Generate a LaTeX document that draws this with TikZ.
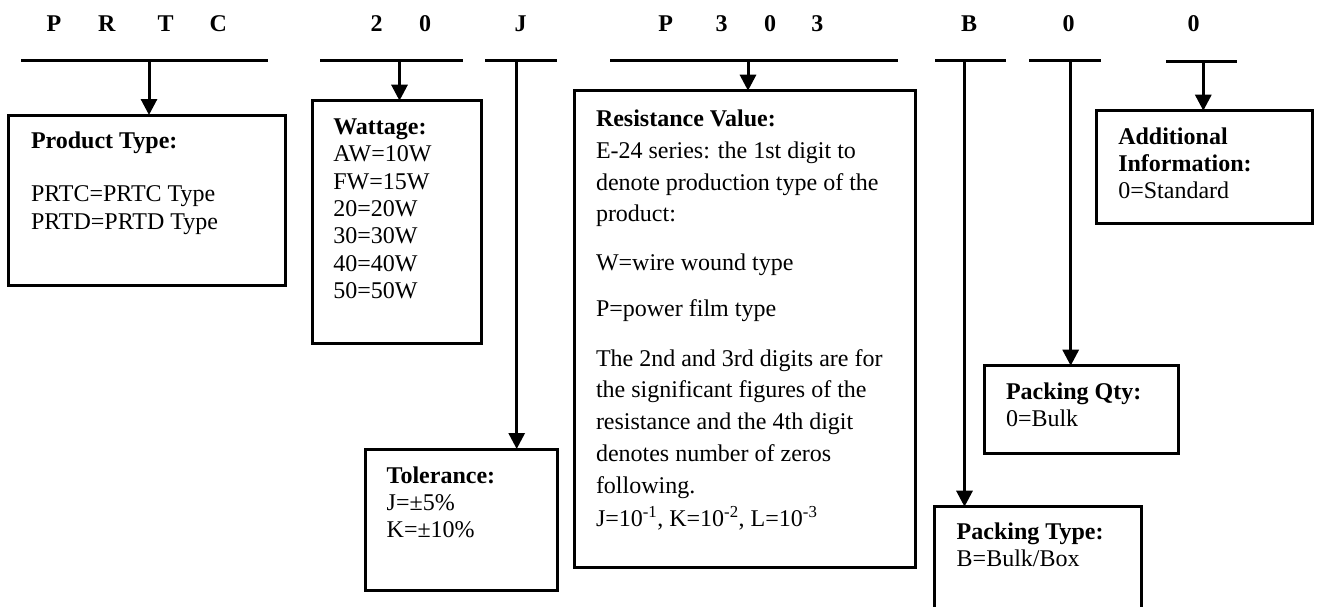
\documentclass[tikz,border=0pt]{standalone}
\usepackage{fontspec}
\setmainfont{Liberation Serif}
\usetikzlibrary{arrows.meta}
\begin{document}
\begin{tikzpicture}[x=1pt,y=-1pt,
  every node/.style={inner sep=0pt,outer sep=0pt},
  code/.style={font=\fontsize{24}{28}\selectfont\bfseries,anchor=base},
  txt/.style={font=\fontsize{24}{28}\selectfont,anchor=base west},
  head/.style={font=\fontsize{24}{28}\selectfont\bfseries,anchor=base west},
  bar/.style={line width=3pt},
  arr/.style={line width=3pt,-{Triangle[width=16pt,length=16pt]}},
  box/.style={draw,line width=3pt,anchor=north west}]
\useasboundingbox (0,0) rectangle (1318,606);
\clip (0,0) rectangle (1318,606);

% code letters
\node[code] (c1) at (54,31.7) {P};
\node[code] (c2) at (106.7,31.7) {R};
\node[code] (c3) at (165.7,31.7) {T};
\node[code] (c4) at (218.3,31.7) {C};
\node[code] (c5) at (376.7,31.7) {2};
\node[code] (c6) at (425,31.7) {0};
\node[code] (c7) at (520.7,31.7) {J};
\node[code] (c8) at (665.7,31.7) {P};
\node[code] (c9) at (721.7,31.7) {3};
\node[code] (c10) at (770,31.7) {0};
\node[code] (c11) at (817.3,31.7) {3};
\node[code] (c12) at (969,31.7) {B};
\node[code] (c13) at (1068.7,31.7) {0};
\node[code] (c14) at (1193.7,31.7) {0};

% boxes
\node[box,minimum width=276.7pt,minimum height=170.7pt] (ptype) at (8.3,115) {};
\node[box,minimum width=169pt,minimum height=242.6pt] (watt) at (312.7,100.7) {};
\node[box,minimum width=192.7pt,minimum height=141pt] (tol) at (365,449) {};
\node[box,minimum width=341.3pt,minimum height=476.3pt] (res) at (574,90.7) {};
\node[box,minimum width=206.7pt,minimum height=140pt] (pktype) at (934.3,506.7) {};
\node[box,minimum width=194.3pt,minimum height=87.6pt] (pkqty) at (984,365.7) {};
\node[box,minimum width=216.7pt,minimum height=112.6pt] (addl) at (1096,110.7) {};

% bars
\coordinate (b1l) at (21,60);   \coordinate (b1r) at (268,60);   \coordinate (d1) at (149,60);
\coordinate (b2l) at (320,60);  \coordinate (b2r) at (463,60);   \coordinate (d2) at (399.5,60);
\coordinate (b3l) at (485,60);  \coordinate (b3r) at (557,60);   \coordinate (d3) at (516.7,60);
\coordinate (b4l) at (610,60);  \coordinate (b4r) at (898,60);   \coordinate (d4) at (748,60);
\coordinate (b5l) at (935,60);  \coordinate (b5r) at (1006,60);  \coordinate (d5) at (964.5,60);
\coordinate (b6l) at (1029,60); \coordinate (b6r) at (1101,60);  \coordinate (d6) at (1070.7,60);
\coordinate (b7l) at (1166,61); \coordinate (b7r) at (1237,61);  \coordinate (d7) at (1203.3,61);
\draw[bar] (b1l) -- (b1r);
\draw[bar] (b2l) -- (b2r);
\draw[bar] (b3l) -- (b3r);
\draw[bar] (b4l) -- (b4r);
\draw[bar] (b5l) -- (b5r);
\draw[bar] (b6l) -- (b6r);
\draw[bar] (b7l) -- (b7r);

% connectors
\draw[arr] (d1) -- (d1 |- ptype.north);
\draw[arr] (d2) -- (d2 |- watt.north);
\draw[arr] (d3) -- (d3 |- tol.north);
\draw[arr] (d4) -- (d4 |- res.north);
\draw[arr] (d5) -- (d5 |- pktype.north);
\draw[arr] (d6) -- (d6 |- pkqty.north);
\draw[arr] (d7) -- (d7 |- addl.north);

% product type
\node[head] (pt0) at (31,148.3) {Product Type:};
\node[txt] (pt1) at (31,201.7) {PRTC=PRTC Type};
\node[txt] (pt2) at (31,229.3) {PRTD=PRTD Type};

% wattage
\node[head] (w0) at (333.3,134.5) {Wattage:};
\node[txt] (w1) at (333.3,161.8) {AW=10W};
\node[txt] (w2) at (333.3,189.1) {FW=15W};
\node[txt] (w3) at (333.3,216.4) {20=20W};
\node[txt] (w4) at (333.3,243.7) {30=30W};
\node[txt] (w5) at (333.3,271) {40=40W};
\node[txt] (w6) at (333.3,298.3) {50=50W};

% tolerance
\node[head] (t0) at (386.7,483) {Tolerance:};
\node[txt] (t1) at (386.7,510.3) {J=±5\%};
\node[txt] (t2) at (386.7,537.6) {K=±10\%};

% resistance
\node[head] (r0) at (596,126.7) {Resistance Value:};
\node[txt] (r1) at (596,158.3) {E-24 series: the 1st digit to};
\node[txt] (r2) at (596,190) {denote production type of the};
\node[txt] (r3) at (596,221.7) {product:};
\node[txt] (r4) at (596,270) {W=wire wound type};
\node[txt] (r5) at (596,316.7) {P=power film type};
\node[txt] (r6) at (596,366) {The 2nd and 3rd digits are for};
\node[txt] (r7) at (596,397.5) {the significant figures of the};
\node[txt] (r8) at (596,429.5) {resistance and the 4th digit};
\node[txt] (r9) at (596,461.3) {denotes number of zeros};
\node[txt] (r10) at (596,493.3) {following.};
\node[txt] (r11) at (596,526.5) {J=10\textsuperscript{-1}, K=10\textsuperscript{-2}, L=10\textsuperscript{-3}};

% packing type
\node[head] (k0) at (956.7,539) {Packing Type:};
\node[txt] (k1) at (956.7,566) {B=Bulk/Box};

% packing qty
\node[head] (q0) at (1006,399.3) {Packing Qty:};
\node[txt] (q1) at (1006,426) {0=Bulk};

% additional information
\node[head] (a0) at (1118.3,144) {Additional};
\node[head] (a1) at (1118.3,171.3) {Information:};
\node[txt] (a2) at (1118.3,198) {0=Standard};
\end{tikzpicture}
\end{document}
